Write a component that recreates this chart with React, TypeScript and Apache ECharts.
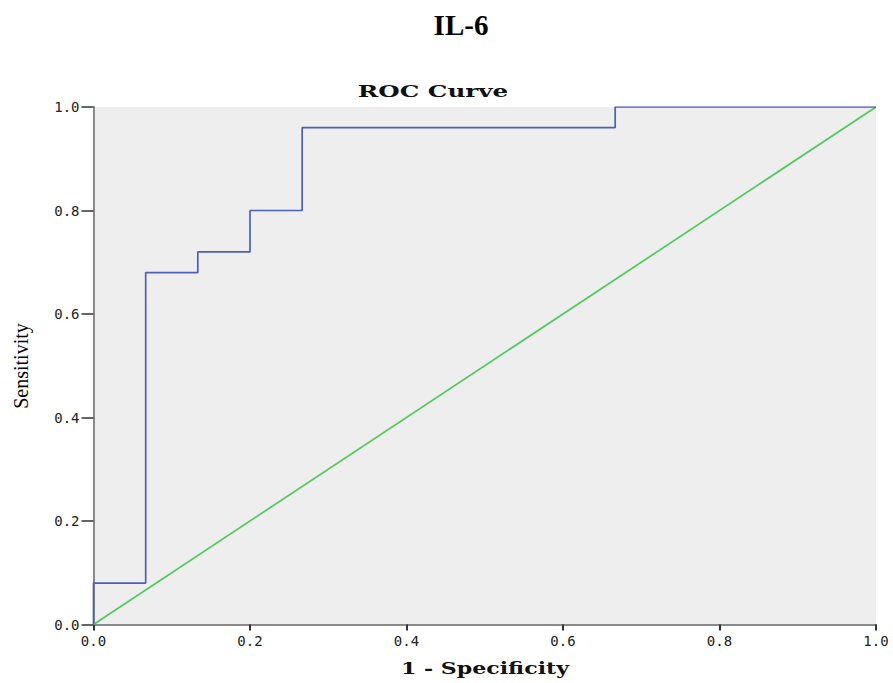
import React, { useEffect, useRef } from "react";
import * as echarts from "echarts";

const rocFpr = [0, 0, 0.0667, 0.0667, 0.1333, 0.1333, 0.2, 0.2, 0.2667, 0.2667, 0.6667, 0.6667, 1.0];
const rocTpr = [0, 0.08, 0.08, 0.68, 0.68, 0.72, 0.72, 0.8, 0.8, 0.96, 0.96, 1.0, 1.0];
const refX = [0, 1];
const refY = [0, 1];
const tickValues = [0, 0.2, 0.4, 0.6, 0.8, 1.0];

export default function App() {
  const ref = useRef<HTMLDivElement>(null);
  useEffect(() => {
    if (!ref.current) return;
    const chart = echarts.init(ref.current, undefined, { renderer: "svg" });
    const tickFont = {
      fontFamily: "DejaVu Sans Mono",
      fontSize: 14,
      color: "#222",
    };
    chart.setOption({
      animation: false,
      backgroundColor: "#ffffff",
      grid: {
        left: 93.5,
        right: 17,
        top: 107,
        bottom: 58.5,
        show: true,
        backgroundColor: "#eeeeee",
        borderWidth: 0,
      },
      xAxis: {
        type: "value",
        min: tickValues[0],
        max: tickValues[tickValues.length - 1],
        interval: 0.2,
        axisLine: { show: true, onZero: false, lineStyle: { color: "#8a8a8a", width: 2 } },
        axisTick: { show: true, length: 6, lineStyle: { color: "#333", width: 2 } },
        axisLabel: { ...tickFont, margin: 9, formatter: (v: number) => v.toFixed(1) },
        splitLine: { show: false },
      },
      yAxis: {
        type: "value",
        min: tickValues[0],
        max: tickValues[tickValues.length - 1],
        interval: 0.2,
        axisLine: { show: true, onZero: false, lineStyle: { color: "#8a8a8a", width: 2 } },
        axisTick: { show: true, length: 12, lineStyle: { color: "#333", width: 1.5 } },
        axisLabel: { ...tickFont, margin: 14, formatter: (v: number) => v.toFixed(1) },
        splitLine: { show: false },
      },
      series: [
        {
          type: "line",
          data: refX.map((x, i) => [x, refY[i]]),
          symbol: "none",
          lineStyle: { color: "#52c85e", width: 1.7 },
          z: 2,
        },
        {
          type: "line",
          data: rocFpr.map((x, i) => [x, rocTpr[i]]),
          symbol: "none",
          lineStyle: { color: "#4d5fba", width: 1.7 },
          z: 3,
        },
      ],
      graphic: [
        {
          type: "text",
          x: 461,
          y: 25,
          style: {
            text: "IL-6",
            fontFamily: "Liberation Serif",
            fontWeight: "bold",
            fontSize: 29,
            fill: "#000",
            align: "center",
            verticalAlign: "middle",
          },
        },
        {
          type: "text",
          x: 433,
          y: 91,
          scaleX: 1.45,
          style: {
            text: "ROC Curve",
            fontFamily: "DejaVu Serif",
            fontWeight: "bold",
            fontSize: 17,
            fill: "#111",
            align: "center",
            verticalAlign: "middle",
          },
        },
        {
          type: "text",
          x: 485,
          y: 668,
          scaleX: 1.3,
          style: {
            text: "1 - Specificity",
            fontFamily: "DejaVu Serif",
            fontWeight: "bold",
            fontSize: 17,
            fill: "#111",
            align: "center",
            verticalAlign: "middle",
          },
        },
        {
          type: "text",
          x: 21,
          y: 366,
          rotation: Math.PI / 2,
          style: {
            text: "Sensitivity",
            fontFamily: "Liberation Serif",
            fontSize: 20,
            fill: "#000",
            align: "center",
            verticalAlign: "middle",
          },
        },
      ],
    });
    return () => chart.dispose();
  }, []);
  return (
    <div
      ref={ref}
      style={{ position: "fixed", left: 0, top: 0, width: 893, height: 683 }}
    />
  );
}
